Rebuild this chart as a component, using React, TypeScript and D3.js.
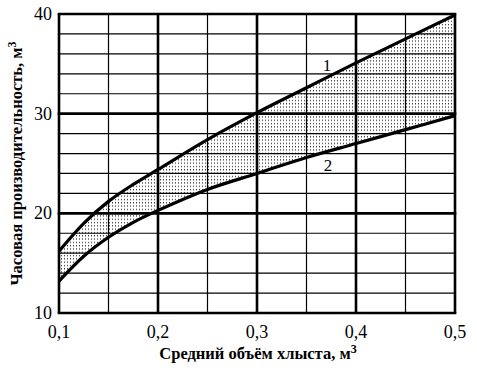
import * as d3 from "d3";

const xValues = [0.1, 0.125, 0.15, 0.175, 0.2, 0.25, 0.3, 0.35, 0.4, 0.45, 0.5];
const curve1 = [16.2, 19.0, 21.2, 22.9, 24.4, 27.4, 30.1, 32.6, 35.1, 37.5, 39.9];
const curve2 = [13.2, 15.7, 17.6, 19.1, 20.3, 22.4, 24.0, 25.6, 27.0, 28.4, 29.8];
const xTicks = [0.1, 0.2, 0.3, 0.4, 0.5];
const yTicks = [10, 20, 30, 40];
const xLabels = ["0,1", "0,2", "0,3", "0,4", "0,5"];

export default function App() {
  const width = 477;
  const height = 371;
  const margin = { top: 14, right: 22, bottom: 58, left: 59 };
  const x = d3.scaleLinear().domain([0.1, 0.5]).range([margin.left, width - margin.right]);
  const y = d3.scaleLinear().domain([10, 40]).range([height - margin.bottom, margin.top]);

  const xMinor = d3.range(0.1, 0.5001, 0.05);
  const yMinor = d3.range(10, 40.001, 2);

  const pts = xValues.map((v, i) => ({ x: v, a: curve1[i], b: curve2[i] }));
  const line = (key: "a" | "b") =>
    d3
      .line<(typeof pts)[number]>()
      .x((d) => x(d.x))
      .y((d) => y(d[key]))
      .curve(d3.curveCatmullRom)(pts) ?? "";
  const band =
    d3
      .area<(typeof pts)[number]>()
      .x((d) => x(d.x))
      .y0((d) => y(d.b))
      .y1((d) => y(d.a))
      .curve(d3.curveCatmullRom)(pts) ?? "";

  const font = { fontFamily: "'Liberation Serif', 'DejaVu Serif', 'Times New Roman', serif" };

  return (
    <svg
      width={width}
      height={height}
      viewBox={`0 0 ${width} ${height}`}
      style={{ position: "absolute", left: 0, top: 0, background: "#fff" }}
    >
      <defs>
        <pattern id="dots" width={3} height={3.3} patternUnits="userSpaceOnUse">
          <rect x={1} y={1} width={1} height={1} fill="#000" />
        </pattern>
      </defs>
      <path d={band} fill="url(#dots)" />
      {xMinor.map((v) => (
        <line key={`vx${v}`} x1={x(v)} x2={x(v)} y1={y(10)} y2={y(40)} stroke="#000" strokeWidth={1.2} />
      ))}
      {yMinor.map((v) => (
        <line key={`hy${v}`} x1={x(0.1)} x2={x(0.5)} y1={y(v)} y2={y(v)} stroke="#000" strokeWidth={1.2} />
      ))}
      {xTicks.map((v) => (
        <line key={`VX${v}`} x1={x(v)} x2={x(v)} y1={y(10)} y2={y(40)} stroke="#000" strokeWidth={2.6} />
      ))}
      {yTicks.map((v) => (
        <line key={`HY${v}`} x1={x(0.1) - 1.3} x2={x(0.5) + 1.3} y1={y(v)} y2={y(v)} stroke="#000" strokeWidth={2.6} />
      ))}
      <path d={line("a")} fill="none" stroke="#000" strokeWidth={3.2} />
      <path d={line("b")} fill="none" stroke="#000" strokeWidth={3.2} />
      <text x={327} y={71} textAnchor="middle" style={font} fontSize={17}>1</text>
      <text x={328} y={171} textAnchor="middle" style={font} fontSize={17}>2</text>
      {yTicks.map((v) => (
        <text key={`yt${v}`} x={x(0.1) - 7} y={y(v) + 6} textAnchor="end" style={font} fontSize={18}>
          {v}
        </text>
      ))}
      {xTicks.map((v, i) => (
        <text key={`xt${v}`} x={x(v)} y={y(10) + 25} textAnchor="middle" style={font} fontSize={18}>
          {xLabels[i]}
        </text>
      ))}
      <text x={258} y={359} textAnchor="middle" style={font} fontSize={16.5} fontWeight="bold">
        Средний объём хлыста, м<tspan dy={-6} fontSize={12}>3</tspan>
      </text>
      <text
        transform={`translate(22, ${y(25)}) rotate(-90)`}
        textAnchor="middle"
        style={font}
        fontSize={16.5}
        fontWeight="bold"
      >
        Часовая  производительность, м<tspan dy={-6} fontSize={12}>3</tspan>
      </text>
    </svg>
  );
}
